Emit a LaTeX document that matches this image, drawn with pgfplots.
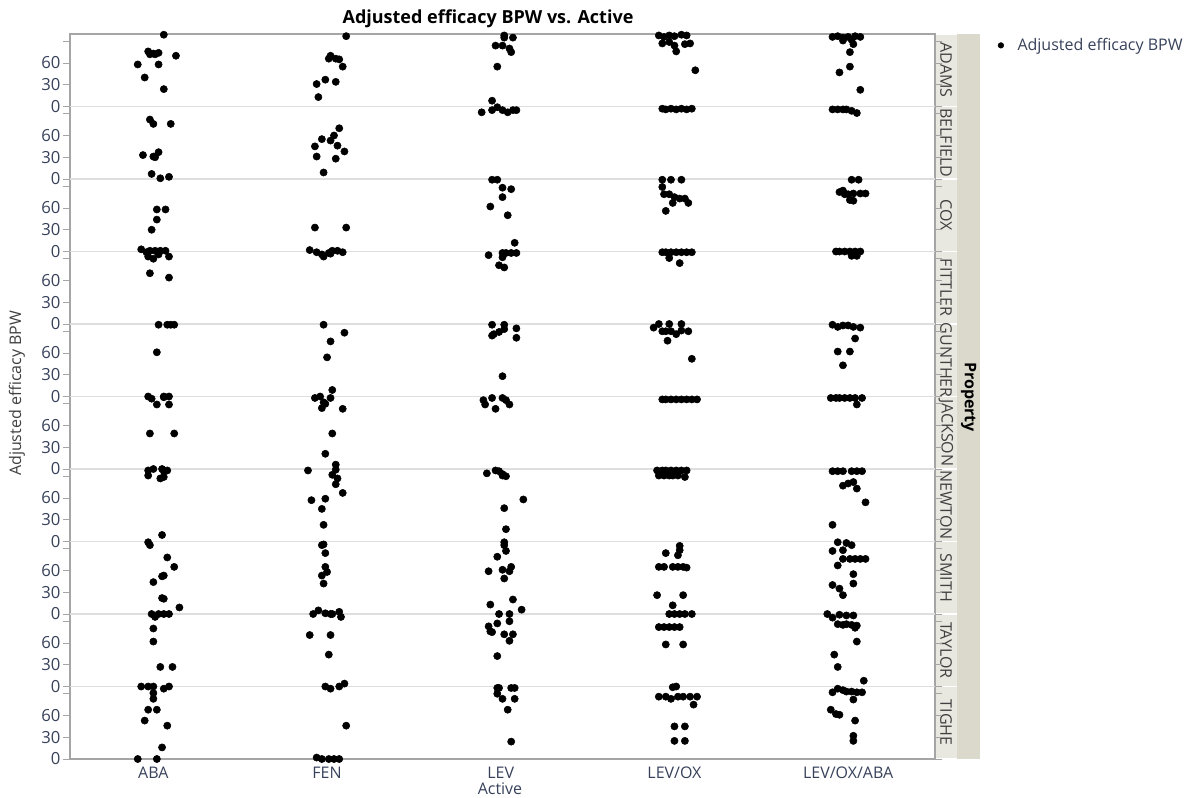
\documentclass[border=0pt]{standalone}
\usepackage{fontspec}
\setmainfont{Open Sans}
\usepackage{pgfplots}
\usepackage{pgfplotstable}
\pgfplotsset{compat=1.18}
\definecolor{tickc}{RGB}{55,65,90}
\definecolor{axc}{RGB}{165,165,165}
\definecolor{gridc}{RGB}{222,222,222}
\definecolor{stripA}{RGB}{233,232,224}
\definecolor{stripB}{RGB}{219,217,204}
\newcommand{\fs}{\fontsize{12}{14}\selectfont}
\newcommand{\fst}{\fontsize{12.5}{14}\selectfont}

% x = category position (0 ABA, 1 FEN, 2 LEV, 3 LEV/OX, 4 LEV/OX/ABA) + jitter, y = value
\pgfplotstableread{
x y
0.06 99
-0.03 76
-0.02 72
0.00 73
0.01 72
0.03 74
0.13 70
-0.09 58
0.03 58
-0.05 40
0.06 24
1.11 97
1.02 70
1.01 66
1.05 66
1.07 65
1.09 55
0.94 31
0.99 37
1.05 34
0.95 13
2.02 98
2.02 95
2.07 95
1.97 84
2.01 84
2.05 80
2.06 75
1.98 55
1.95 8
1.89 -8
1.95 -5
1.98 -1
2.01 -5
2.04 -8
2.07 -5
2.09 -5
2.91 98
2.94 96
2.97 98
3.00 97
3.04 99
3.07 98
3.09 87
2.93 87
2.97 89
3.00 84
3.06 86
3.01 76
3.12 50
2.93 -3
2.95 -4
2.98 -3
3.01 -4
3.04 -3
3.07 -4
3.10 -3
3.91 96
3.94 97
3.97 95
4.00 96
4.04 97
4.07 96
3.97 91
4.02 92
4.03 86
4.01 75
4.01 55
3.95 47
4.07 23
3.91 -4
3.94 -4
3.97 -4
3.99 -4
4.02 -6
4.05 -9
}\adams
\pgfplotstableread{
x y
-0.02 82
0.00 76
0.10 76
-0.06 33
0.00 31
0.01 30
0.03 37
-0.01 7
0.04 1
0.09 3
1.07 70
1.04 60
0.97 55
1.02 53
1.06 46
0.93 45
0.94 31
1.10 38
1.05 28
0.98 9
}\belfield
\pgfplotstableread{
x y
0.02 58
0.07 58
0.02 44
-0.01 30
-0.07 3
-0.04 -1
-0.02 1
0.01 1
0.04 1
0.07 1
-0.03 -7
0.00 -10
0.03 -4
0.09 -7
0.93 33
1.11 33
0.90 2
0.94 -1
0.98 -7
1.01 -2
1.03 1
1.06 1
1.09 -1
0.97 -4
1.02 -3
1.95 99
1.98 99
2.01 88
2.06 86
2.01 75
1.94 62
2.04 50
2.08 12
1.93 -5
2.01 -2
2.03 -2
2.06 -2
2.09 -2
2.01 -8
1.99 -19
2.02 -22
2.93 99
2.98 99
3.04 99
2.93 89
2.94 79
2.97 79
3.00 75
3.03 73
3.06 73
3.08 67
2.99 67
2.95 56
2.93 -1
2.95 -1
2.98 -1
3.01 -1
3.04 -1
3.07 -1
3.10 -1
2.97 -9
3.03 -16
4.02 99
4.06 99
3.95 82
3.97 84
4.00 79
4.03 80
4.07 80
4.10 80
4.01 71
4.03 70
3.98 79
3.93 0
3.95 0
3.98 0
4.01 0
4.04 0
4.07 0
4.02 -6
4.05 -6
}\cox
\pgfplotstableread{
x y
-0.02 70
0.09 64
}\fittler
\pgfplotstableread{
x y
0.03 99
0.08 99
0.10 99
0.12 99
0.02 61
-0.03 0
-0.01 -3
0.02 -11
0.06 0
0.06 -1
0.09 0
0.09 -11
0.98 99
1.10 88
1.02 76
1.00 54
1.03 9
0.93 -2
0.96 0
0.99 -10
0.97 -16
1.02 -2
1.09 -17
0.98 -8
1.95 99
2.02 99
1.99 89
1.95 84
2.09 94
2.09 81
1.96 86
2.02 93
2.01 28
1.90 -5
1.91 -11
1.95 -2
1.97 -17
2.01 -2
2.03 -5
2.05 -11
2.88 95
2.91 100
2.97 100
3.04 100
2.93 90
2.95 90
2.98 90
3.01 86
3.04 91
3.08 90
2.96 77
3.10 52
2.93 -4
2.95 -4
2.98 -4
3.01 -4
3.04 -4
3.07 -4
3.10 -4
3.13 -4
3.91 99
3.94 96
3.97 98
4.00 98
4.03 96
4.07 95
4.04 80
3.94 62
4.01 62
3.97 43
3.90 -2
3.93 -2
3.95 -2
3.98 -2
4.01 -2
4.04 -2
4.08 -2
4.05 -11
}\gunther
\pgfplotstableread{
x y
-0.02 49
0.12 49
-0.03 -2
0.00 0
0.05 0
0.06 -3
0.08 -2
-0.03 -9
0.04 -13
0.06 -11
1.03 49
0.99 21
1.05 6
0.89 -2
1.05 -1
1.03 -8
1.92 -6
1.97 -2
1.99 -3
2.01 -9
2.03 -10
2.01 -7
2.90 -2
2.93 -2
2.95 -2
2.98 -2
3.01 -2
3.04 -2
3.07 -2
2.91 -9
2.94 -9
2.97 -9
2.99 -9
3.02 -9
3.06 -11
3.91 -3
3.94 -3
3.97 -3
4.02 -3
4.05 -3
4.08 -3
}\jackson
\pgfplotstableread{
x y
0.05 9
1.06 87
1.05 79
1.09 67
0.91 57
0.99 59
0.97 45
0.98 23
2.13 58
2.02 46
2.03 17
3.97 77
4.00 80
4.03 82
4.05 73
4.10 54
3.91 23
}\newton
\pgfplotstableread{
x y
-0.03 99
-0.02 95
0.08 78
0.12 65
0.05 52
0.06 53
0.00 44
0.05 22
0.06 21
0.15 9
-0.01 0
0.01 -4
0.03 0
0.06 0
0.09 0
0.97 95
0.98 96
0.99 84
0.99 65
1.00 58
0.97 53
0.98 42
0.92 0
0.95 5
0.99 1
1.02 0
1.03 0
1.07 3
1.08 -4
2.02 99
2.02 95
2.03 87
1.98 79
1.93 59
2.01 61
2.06 65
2.05 59
2.02 49
1.94 13
2.07 20
2.12 6
1.99 0
2.05 0
3.03 94
3.03 88
2.95 84
3.02 81
2.91 65
2.94 65
2.99 65
3.02 65
3.05 65
3.07 64
2.90 26
3.05 26
2.99 12
2.97 0
3.00 0
3.03 0
3.06 0
3.10 0
3.94 99
3.99 98
4.02 95
3.91 87
3.97 88
3.97 76
4.01 76
4.04 76
4.07 76
4.10 76
3.94 67
4.03 55
4.03 42
3.91 40
3.95 35
3.97 26
3.88 0
3.91 -5
3.95 -1
3.99 -2
4.03 -2
}\smith
\pgfplotstableread{
x y
0.00 80
0.00 62
0.04 27
0.11 27
-0.07 0
-0.03 0
0.00 0
0.06 -3
0.09 0
0.90 71
1.02 71
1.01 44
0.99 0
1.02 -3
1.07 0
1.10 4
1.93 83
1.95 75
1.98 87
1.94 76
2.05 90
2.02 72
2.07 72
2.05 63
1.98 42
2.91 82
2.94 82
2.97 82
3.00 82
3.03 82
2.95 58
3.05 58
3.94 86
3.97 85
3.99 86
4.02 85
4.05 84
4.04 81
4.05 62
3.92 44
3.94 27
4.09 8
}\taylor
\pgfplotstableread{
x y
0.00 91
0.00 83
-0.03 68
0.02 68
-0.05 53
0.08 46
0.05 16
-0.09 0
0.02 0
1.11 46
0.94 2
0.97 0
1.01 0
1.04 0
1.07 0
1.98 98
1.99 98
2.06 98
2.08 98
1.98 90
2.01 83
2.08 83
2.04 68
2.06 24
2.99 99
3.01 100
2.91 86
2.95 86
2.98 83
3.02 86
3.05 86
3.09 86
3.13 86
3.11 75
3.00 45
3.06 45
3.00 25
3.06 25
3.91 92
3.94 97
3.97 95
3.99 93
4.02 93
4.05 92
4.08 92
4.03 82
3.90 68
3.93 62
3.95 61
4.04 53
4.03 32
4.03 25
}\tighe

\begin{document}
\begin{tikzpicture}
\path[use as bounding box] (0,0) rectangle (888.75pt,-597.75pt);
% strips
\foreach \k in {0,...,9}{
  \fill[stripA] (701.25pt,{-(34+72.5*\k+0.6)*0.75pt}) rectangle (717.75pt,{-(34+72.5*(\k+1)-0.6)*0.75pt});
}
\fill[stripB] (717.75pt,-25.5pt) rectangle (735pt,-569.25pt);
\foreach \k/\n in {0/ADAMS,1/BELFIELD,2/COX,3/FITTLER,4/GUNTHER,5/JACKSON,6/NEWTON,7/SMITH,8/TAYLOR,9/TIGHE}{
  \node[rotate=-90, font=\fs, text=black!75, inner sep=0pt] at (709.5pt,{-(34+72.5*\k+36.25)*0.75pt}) {\n};
}
\node[rotate=-90, font=\fs\bfseries, inner sep=0pt] at (726.4pt,-297.75pt) {Property};
\begin{axis}[
  at={(52.5pt,-569.25pt)}, anchor=south west,
  width=648.75pt, height=543.75pt, scale only axis,
  xmin=-0.48, xmax=4.5, ymin=0, ymax=1000,
  xtick={0,1,2,3,4},
  xticklabels={ABA,FEN,LEV,LEV/OX,LEV/OX/ABA},
  ytick={0,30,60,90,100,130,160,190,200,230,260,290,300,330,360,390,400,430,460,490,500,530,560,590,600,630,660,690,700,730,760,790,800,830,860,890,900,930,960,990},
  yticklabels={0,30,60,{},0,30,60,{},0,30,60,{},0,30,60,{},0,30,60,{},0,30,60,{},0,30,60,{},0,30,60,{},0,30,60,{},0,30,60,{}},
  extra y ticks={100,200,300,400,500,600,700,800,900},
  extra y tick labels={},
  extra y tick style={grid=major, major grid style={draw=gridc, line width=1.1pt}, major tick length=0pt},
  tick align=outside,
  major tick length=5.5pt,
  ytick style={draw=axc, line width=0.6pt},
  xtick style={draw=none},
  axis line style={draw=axc, line width=0.9pt},
  yticklabel style={font=\fst, text=tickc, inner xsep=1.5pt},
  xticklabel style={font=\fs, text=tickc, yshift=3pt},
  legend style={at={(1,1)}, anchor=north west, xshift=40.5pt, yshift=-1pt, draw=none, fill=none, font=\fs, text=tickc, inner sep=0pt},
  legend cell align=left,
  legend image code/.code={\draw[#1, mark size=2.1pt] plot coordinates {(0.3cm,0cm)}; \path (0cm,0cm) (0.66cm,0cm);},
]
\addplot[only marks, mark=*, mark size=2.7pt, black] table[x=x, y expr=\thisrow{y}+900] {\adams};
\addlegendentry{Adjusted efficacy BPW}
\addplot[forget plot, only marks, mark=*, mark size=2.7pt, black] table[x=x, y expr=\thisrow{y}+800] {\belfield};
\addplot[forget plot, only marks, mark=*, mark size=2.7pt, black] table[x=x, y expr=\thisrow{y}+700] {\cox};
\addplot[forget plot, only marks, mark=*, mark size=2.7pt, black] table[x=x, y expr=\thisrow{y}+600] {\fittler};
\addplot[forget plot, only marks, mark=*, mark size=2.7pt, black] table[x=x, y expr=\thisrow{y}+500] {\gunther};
\addplot[forget plot, only marks, mark=*, mark size=2.7pt, black] table[x=x, y expr=\thisrow{y}+400] {\jackson};
\addplot[forget plot, only marks, mark=*, mark size=2.7pt, black] table[x=x, y expr=\thisrow{y}+300] {\newton};
\addplot[forget plot, only marks, mark=*, mark size=2.7pt, black] table[x=x, y expr=\thisrow{y}+200] {\smith};
\addplot[forget plot, only marks, mark=*, mark size=2.7pt, black] table[x=x, y expr=\thisrow{y}+100] {\taylor};
\addplot[forget plot, only marks, mark=*, mark size=2.7pt, black] table[x=x, y expr=\thisrow{y}] {\tighe};
\end{axis}
\node[font=\fontsize{13.5}{15}\selectfont\bfseries] at (366pt,-14pt) {Adjusted efficacy BPW vs. Active};
\node[font=\fs, text=tickc, anchor=base] at (375pt,-595.6pt) {Active};
\node[font=\fs, text=black!75, rotate=90] at (12.75pt,-295pt) {Adjusted efficacy BPW};
\end{tikzpicture}
\end{document}
